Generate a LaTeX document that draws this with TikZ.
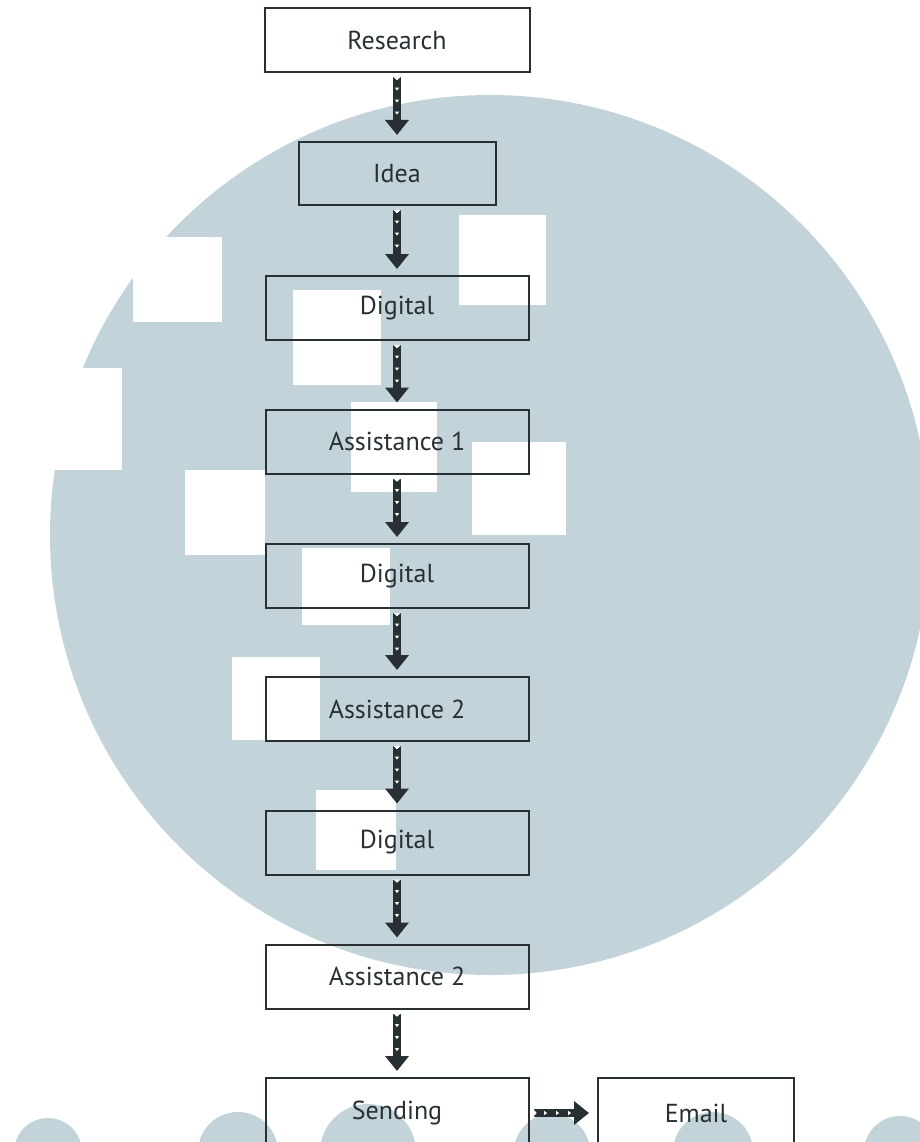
\documentclass[tikz,border=0pt]{standalone}
\usepackage{fontspec}
\setmainfont{PT Sans}
\usetikzlibrary{arrows.meta,decorations.markings}
\definecolor{wm}{RGB}{195,211,218}
\definecolor{ink}{RGB}{40,48,52}
\tikzset{
  stage/.style={draw=ink, line width=2pt, text=ink,
    font=\fontsize{26}{30}\selectfont,
    minimum width=263pt, minimum height=64pt, inner sep=0pt},
  flow/.style={draw=ink, line width=8pt,
    -{Triangle[length=15pt,width=23pt]},
    shorten <=4pt, shorten >=6pt,
    postaction={decorate},
    decoration={markings,
      mark=at position 4pt with
        {\fill[white] (0,3.6pt) -- (0,-3.6pt) -- (3.2pt,0) -- cycle;},
      mark=between positions 16pt and 41pt step 12pt with
        {\fill[white] (1.6pt,0) -- (-1.4pt,2.2pt) -- (-1.4pt,-2.2pt) -- cycle;}}},
  blot/.style={fill=wm, draw=none},
  gap/.style={fill=white, draw=none}
}
\begin{document}
\begin{tikzpicture}[x=1pt,y=-1pt]
\useasboundingbox (0,0) rectangle (920,1142);
\fill[white] (0,0) rectangle (920,1142);

% faded emblem in the background
\fill[blot] (490,535) circle[radius=440pt];
\fill[gap] (133,237) rectangle (222,322);
\fill[gap] (30,368) rectangle (122,470);
\fill[gap] (459,215) rectangle (546,305);
\fill[gap] (293,290) rectangle (381,385);
\fill[gap] (351,402) rectangle (437,492);
\fill[gap] (472,442) rectangle (566,535);
\fill[gap] (185,470) rectangle (265,555);
\fill[gap] (302,548) rectangle (390,625);
\fill[gap] (232,657) rectangle (320,740);
\fill[gap] (316,790) rectangle (396,870);
\fill[blot] (48,1152) circle[radius=34pt];
\fill[blot] (238,1152) circle[radius=40pt];
\fill[blot] (368,1152) circle[radius=48pt];
\fill[blot] (552,1152) circle[radius=38pt];
\fill[blot] (713,1152) circle[radius=40pt];
\fill[blot] (900,1152) circle[radius=36pt];

% process steps
\node[stage, minimum width=265pt] (research) at (397,40) {Research};
\node[stage, minimum width=197pt, minimum height=63pt] (idea) at (397,173.5) {Idea};
\node[stage] (dig1) at (397,308) {Digital};
\node[stage] (as1) at (397,441.5) {Assistance 1};
\node[stage] (dig2) at (397,576) {Digital};
\node[stage] (as2) at (397,709) {Assistance 2};
\node[stage] (dig3) at (397,842.5) {Digital};
\node[stage] (as3) at (397,976.5) {Assistance 2};
\node[stage, minimum height=70pt] (send) at (397,1113) {Sending};
\node[stage, minimum width=196pt, minimum height=70pt] (email) at (696,1113) {Email};

% connectors
\draw[flow] (research) -- (idea);
\draw[flow] (idea) -- (dig1);
\draw[flow] (dig1) -- (as1);
\draw[flow] (as1) -- (dig2);
\draw[flow] (dig2) -- (as2);
\draw[flow] (as2) -- (dig3);
\draw[flow] (dig3) -- (as3);
\draw[flow] (as3) -- (send);
\draw[flow, shorten >=8pt] (send) -- (email);
\end{tikzpicture}
\end{document}
